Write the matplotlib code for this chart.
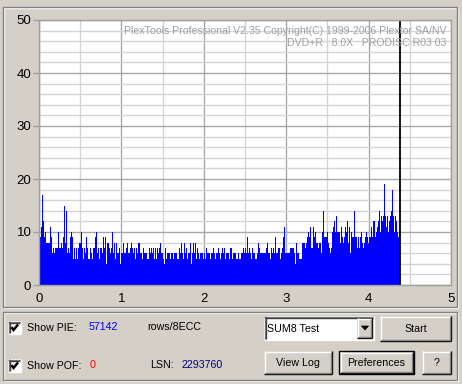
import matplotlib
matplotlib.use("Agg")
import matplotlib.pyplot as plt
from matplotlib.patches import Rectangle, Polygon
from matplotlib import font_manager
import numpy as np

plt.rcParams['font.family'] = ['Liberation Sans', 'DejaVu Sans']
_names = {f.name for f in font_manager.fontManager.ttflist}
if 'Liberation Sans Narrow' in _names:
    UI_FAMILY = ['Liberation Sans Narrow', 'Liberation Sans', 'DejaVu Sans']
    UI_SIZE = 9.2
else:
    UI_FAMILY = ['Liberation Sans', 'DejaVu Sans']
    UI_SIZE = 7.7

# ---------------- data ----------------
pie_values = [
    # 0.00 - 0.73
    20, 9, 11, 17, 12, 9, 10, 8, 8, 8, 8, 11, 9, 6, 7, 6, 7, 7, 7, 10,
    7, 7, 8, 7, 9, 15, 8, 14, 6, 7, 6, 9, 10, 9, 5, 7, 5, 7, 5, 7,
    8, 8, 10, 7, 5, 7, 6, 9, 7, 5, 5, 7, 6, 5, 7, 7, 9, 10, 6, 7, 5,
    # 0.74 - 1.49
    7, 7, 6, 9, 7, 9, 4, 8, 8, 7, 6, 7, 10, 6, 8, 5, 8, 6, 6, 7,
    4, 6, 6, 8, 6, 6, 7, 8, 6, 6, 7, 8, 7, 6, 7, 5, 7, 6, 8, 8,
    6, 6, 5, 7, 6, 6, 6, 5, 5, 7, 6, 7, 6, 7, 5, 7, 5, 7, 6, 7, 8, 6,
    # 1.49 - 2.24
    6, 5, 4, 7, 5, 6, 6, 6, 5, 6, 6, 5, 6, 6, 6, 5, 5, 7, 6, 8,
    6, 5, 8, 6, 7, 5, 6, 6, 8, 4, 6, 8, 6, 8, 5, 7, 6, 5, 6, 6,
    6, 5, 6, 5, 7, 6, 6, 6, 5, 6, 6, 7, 6, 5, 6, 6, 7, 6, 5, 6, 7, 6,
    # 2.25 - 2.99
    7, 5, 6, 6, 6, 5, 7, 7, 5, 6, 6, 6, 5, 6, 5, 5, 6, 6, 7, 6,
    7, 6, 9, 6, 7, 6, 5, 7, 6, 6, 5, 5, 6, 8, 7, 6, 6, 6, 6, 6,
    6, 7, 8, 6, 6, 5, 7, 6, 7, 6, 9, 6, 6, 7, 7, 5, 6, 7, 9, 11, 6, 6,
    # 3.00 - 3.75
    6, 6, 6, 7, 7, 7, 7, 6, 4, 8, 6, 6, 5, 5, 5, 8, 8, 8, 7, 8,
    9, 10, 9, 11, 7, 7, 11, 9, 10, 8, 8, 7, 8, 8, 6, 10, 14, 9, 9, 9,
    10, 8, 7, 6, 7, 10, 11, 12, 10, 13, 10, 10, 10, 8, 11, 9, 8, 9, 11, 10, 12, 8,
    # 3.76 - 4.38
    11, 6, 10, 9, 9, 14, 9, 9, 7, 9, 7, 9, 10, 8, 7, 8, 9, 10, 9, 8,
    9, 9, 11, 9, 12, 12, 9, 10, 11, 12, 14, 10, 13, 12, 13, 19, 13, 11, 13, 10,
    12, 13, 14, 18, 13, 10, 13, 12, 10, 9, 10,
]
scan_end = 4.38          # position of the black end-of-scan line (GB)
x_ticks = [0, 1, 2, 3, 4, 5]
y_ticks = [0, 10, 20, 30, 40, 50]
watermark1 = "PlexTools Professional V2.35 Copyright(C) 1999-2006 Plextor SA/NV"
watermark2 = "DVD+R   8.0X   PRODISC R03 03"
pie_total = "57142"
pof_total = "0"
lsn_value = "2293760"

# ---------------- figure ----------------
W, H = 462, 384
BG = '#D4D0C8'
fig = plt.figure(figsize=(W / 100, H / 100), dpi=100, facecolor=BG)

ov = fig.add_axes([0, 0, 1, 1], zorder=0)
ov.set_xlim(0, W)
ov.set_ylim(H, 0)
ov.axis('off')
ov.set_facecolor(BG)


def ui_text(x, y, s, color='black', ha='left'):
    ov.text(x, y, s, ha=ha, va='center', fontsize=UI_SIZE, color=color, family=UI_FAMILY)


def hline(x0, x1, y, c, lw=1.0):
    ov.plot([x0, x1], [y, y], color=c, lw=lw, solid_capstyle='butt')


def vline(x, y0, y1, c, lw=1.0):
    ov.plot([x, x], [y0, y1], color=c, lw=lw, solid_capstyle='butt')


def etched(x0, y0, x1, y1):
    ov.add_patch(Rectangle((x0 + 1, y0 + 1), x1 - x0, y1 - y0, fill=False, ec='white', lw=1))
    ov.add_patch(Rectangle((x0, y0), x1 - x0, y1 - y0, fill=False, ec='#808080', lw=1))


def button(x0, y0, x1, y1, label, default=False):
    ov.add_patch(Rectangle((x0, y0), x1 - x0, y1 - y0, fc=BG, ec='none'))
    hline(x0, x1, y0 + 0.5, 'white')
    vline(x0 + 0.5, y0, y1, 'white')
    hline(x0, x1, y1 - 0.5, 'black')
    vline(x1 - 0.5, y0, y1, 'black')
    hline(x0 + 1, x1 - 1, y1 - 1.5, '#808080')
    vline(x1 - 1.5, y0 + 1, y1 - 1, '#808080')
    if default:
        ov.add_patch(Rectangle((x0 - 1, y0 - 1), x1 - x0 + 2, y1 - y0 + 2, fill=False, ec='black', lw=1))
    if label:
        ui_text((x0 + x1) / 2, (y0 + y1) / 2, label, ha='center')


def sunken(x0, y0, x1, y1, fc='white'):
    ov.add_patch(Rectangle((x0, y0), x1 - x0, y1 - y0, fc=fc, ec='none'))
    hline(x0, x1, y0 + 0.5, '#808080')
    vline(x0 + 0.5, y0, y1, '#808080')
    hline(x0 + 1, x1 - 1, y0 + 1.5, '#404040')
    vline(x0 + 1.5, y0 + 1, y1 - 1, '#404040')
    hline(x0, x1, y1 - 0.5, 'white')
    vline(x1 - 0.5, y0, y1, 'white')


def checkbox(x0, y0):
    sunken(x0, y0, x0 + 13, y0 + 13)
    ov.plot([x0 + 3.5, x0 + 5.5, x0 + 10], [y0 + 6, y0 + 9, y0 + 3.5], color='black', lw=1.8,
            solid_capstyle='butt', solid_joinstyle='miter')


etched(3, 7, 457, 307)
etched(3, 312, 457, 380)

# ---------------- chart ----------------
px_l, px_r, px_t, px_b = 39, 451, 20, 285
ax = fig.add_axes([px_l / W, (H - px_b) / H, (px_r - px_l) / W, (px_b - px_t) / H], zorder=1)
ax.set_facecolor('white')
ax.set_xlim(0, 5)
ax.set_ylim(0, 50)

ax.set_xticks(x_ticks)
ax.set_yticks(y_ticks)
ax.set_xticks(np.arange(0, 5.01, 0.5), minor=True)
ax.set_yticks(np.arange(0, 50.1, 2), minor=True)
ax.grid(which='minor', color='#D4D4D4', lw=1.0)
ax.grid(which='major', color='#A8A8A8', lw=1.0)
ax.set_axisbelow(True)
ax.tick_params(axis='y', which='major', length=4.5, width=1, color='#A0A0A0', pad=1,
               labelsize=9.5, labelcolor='black')
ax.tick_params(axis='x', which='major', length=0, pad=6, labelsize=9.5, labelcolor='black')
ax.tick_params(which='minor', length=0)
for s in ax.spines.values():
    s.set_color('#A0A0A0')
    s.set_linewidth(1)

n = len(pie_values)
step = scan_end / n
xs = np.arange(n) * step
ax.bar(xs, pie_values, width=step, align='edge', color='#0000FF', linewidth=0, antialiased=False)
ax.axvline(scan_end, color='black', lw=1.3)

ax.text(0.988, 0.958, watermark1, transform=ax.transAxes, ha='right', va='center',
        fontsize=7.6, color='#A0A0A0')
ax.text(0.988, 0.914, watermark2, transform=ax.transAxes, ha='right', va='center',
        fontsize=7.6, color='#A0A0A0')

# ---------------- controls ----------------
checkbox(8, 321)
checkbox(8, 359)
ui_text(27, 328, "Show PIE:")
ui_text(89, 327, pie_total, color='#0000FF')
ui_text(147, 327, "rows/8ECC")
ui_text(27, 366, "Show POF:")
ui_text(90, 365, pof_total, color='#FF0000')
ui_text(150, 365, "LSN:")
ui_text(181, 365, lsn_value, color='#000080')

sunken(264, 316, 374, 340)
ui_text(267, 329, "SUM8 Test")
button(357, 318, 372, 338, "")
ov.add_patch(Polygon([[361.5, 326], [368.5, 326], [365, 330]], closed=True, fc='black', ec='black', lw=0.5))

button(380, 316, 451, 341, "Start")
button(264, 351, 332, 374, "View Log")
button(340, 352, 413, 373, "Preferences", default=True)
button(422, 351, 451, 374, "?")

fig.savefig('out.png', dpi=100, facecolor=BG)
